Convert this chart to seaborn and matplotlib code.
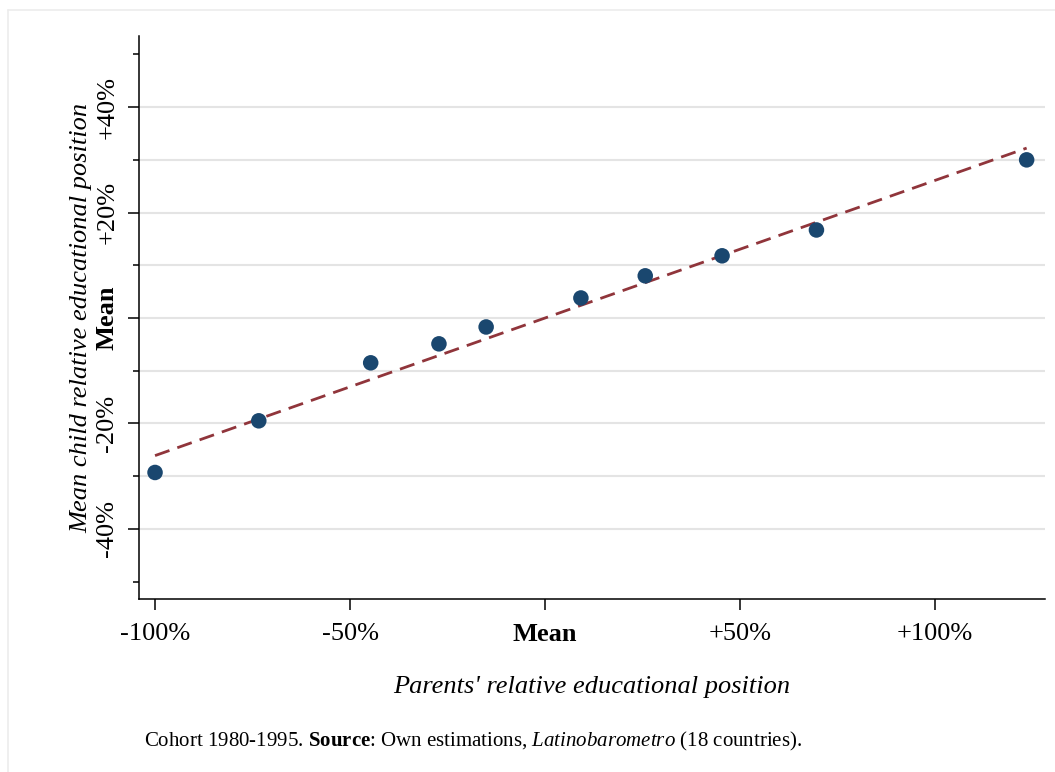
import matplotlib
matplotlib.use("Agg")
import matplotlib.pyplot as plt
import matplotlib.lines as mlines
import seaborn as sns
import pandas as pd

# points (relative positions, % vs. mean)
parents_pos = [-100.0, -73.4, -44.7, -27.2, -15.1, 9.2, 25.7, 45.4, 69.6, 123.5]
child_pos = [-29.3, -19.5, -8.5, -4.9, -1.7, 3.8, 8.0, 11.8, 16.7, 30.0]

# linear fit
fit_slope = 0.261
fit_intercept = 0.0

x_ticks = [-100, -50, 0, 50, 100]
x_labels = ["-100%", "-50%", "Mean", "+50%", "+100%"]
y_ticks = [-40, -20, 0, 20, 40]
y_labels = ["-40%", "-20%", "Mean", "+20%", "+40%"]
y_minor = [-50, -30, -10, 10, 30, 50]
grid_vals = [-40, -30, -20, -10, 0, 10, 20, 30, 40]

df = pd.DataFrame({"parents": parents_pos, "child": child_pos})
fit = pd.DataFrame({"parents": [min(parents_pos), max(parents_pos)]})
fit["child"] = fit_slope * fit["parents"] + fit_intercept

sns.set_theme(style="white")
plt.rcParams["font.family"] = ["Liberation Serif", "DejaVu Serif"]
plt.rcParams["mathtext.fontset"] = "custom"
plt.rcParams["mathtext.rm"] = "Liberation Serif"
plt.rcParams["mathtext.bf"] = "Liberation Serif:bold"
plt.rcParams["mathtext.it"] = "Liberation Serif:italic"
for key in ["text.color", "axes.labelcolor", "xtick.color", "ytick.color"]:
    plt.rcParams[key] = "black"

fig = plt.figure(figsize=(10.55, 7.72), dpi=100)
ax = fig.add_axes([0.1318, 0.2241, 0.9905 - 0.1318, 0.9534 - 0.2241])

for g in grid_vals:
    ax.axhline(g, color="#e4e4e4", lw=1.5, zorder=0)

sns.lineplot(data=fit, x="parents", y="child", ax=ax, color="#90353b",
             lw=2.0, linestyle=(0, (5.5, 3.0)), zorder=2)
sns.scatterplot(data=df, x="parents", y="child", ax=ax, color="#1a476f",
                s=125, edgecolor="none", zorder=3)

ax.set_xlim(-104.1, 128.2)
ax.set_ylim(-53.3, 53.5)

ax.set_xticks(x_ticks)
ax.set_xticklabels(x_labels, fontsize=19)
ax.set_yticks(y_ticks)
ax.set_yticklabels(y_labels, fontsize=19, rotation=90, va="center")
ax.set_yticks(y_minor, minor=True)
ax.get_xticklabels()[2].set_fontweight("bold")
ax.get_yticklabels()[2].set_fontweight("bold")

ax.tick_params(axis="x", which="major", length=8, width=1.1, color="black",
               pad=9, bottom=True)
ax.tick_params(axis="y", which="major", length=8, width=1.1, color="black",
               pad=7, left=True)
ax.tick_params(axis="y", which="minor", length=4.5, width=1.1, color="black",
               left=True)

for side in ["top", "right"]:
    ax.spines[side].set_visible(False)
for side in ["left", "bottom"]:
    ax.spines[side].set_color("black")
    ax.spines[side].set_linewidth(1.1)

ax.set_xlabel("Parents' relative educational position", fontsize=19,
              style="italic")
ax.set_ylabel("Mean child relative educational position", fontsize=19,
              style="italic")
ax.xaxis.set_label_coords(0.5, -0.136)
ax.yaxis.set_label_coords(-0.052, 0.5)

fig.text(144 / 1055, 1 - 741 / 772,
         r"Cohort 1980-1995. $\mathbf{Source}$: Own estimations, "
         r"$\mathit{Latinobarometro}$ (18 countries).",
         fontsize=15, va="center", ha="left")

# light frame of the graph region
fig.add_artist(mlines.Line2D([8 / 1055, 1], [1 - 10 / 772, 1 - 10 / 772],
                             transform=fig.transFigure, color="#ececec", lw=1.2))
fig.add_artist(mlines.Line2D([8 / 1055, 8 / 1055], [0, 1 - 10 / 772],
                             transform=fig.transFigure, color="#ececec", lw=1.2))

fig.savefig("out.png", dpi=100)
